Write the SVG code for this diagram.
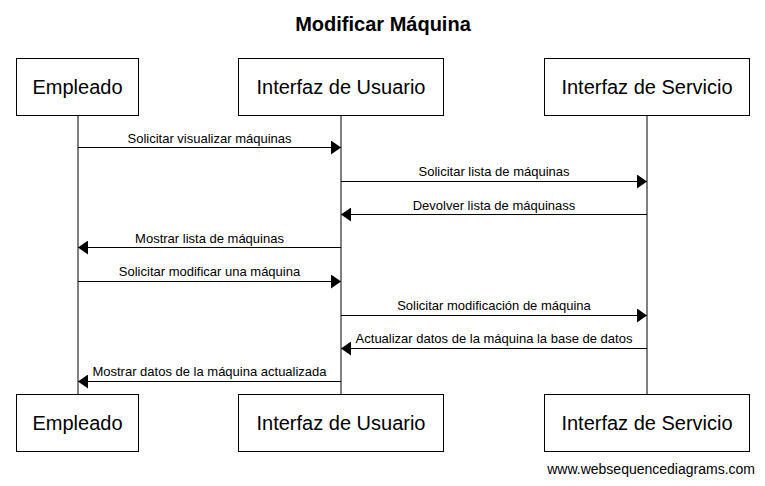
<svg xmlns="http://www.w3.org/2000/svg" width="765" height="486" viewBox="0 0 765 486">
<style>
text{font-family:"Liberation Sans",Arial,sans-serif;fill:#000}
.box{fill:#fff;stroke:#000;stroke-width:1}
.bt{font-size:20px;text-anchor:middle}
.life{stroke:#000;stroke-width:1}
.msg{stroke:#000;stroke-width:1;fill:none}
.ml{font-size:13px;text-anchor:middle}
</style>
<defs>
<marker id="ah" viewBox="0 0 10 14" refX="10" refY="7" markerWidth="10" markerHeight="14" markerUnits="userSpaceOnUse" orient="auto">
<path d="M0,0 L10,7 L0,14 Z" fill="#000"/>
</marker>
</defs>
<rect width="765" height="486" fill="#fff"/>
<text x="383" y="31" font-size="20" font-weight="bold" text-anchor="middle">Modificar Máquina</text>
<g id="lifelines">
<line class="life" x1="78" y1="115" x2="78" y2="394"/>
<line class="life" x1="341" y1="115" x2="341" y2="394"/>
<line class="life" x1="647" y1="115" x2="647" y2="394"/>
</g>
<g id="connectors">
<line class="msg" x1="78" y1="147.5" x2="341" y2="147.5" marker-end="url(#ah)"/>
<text class="ml" x="209.5" y="143">Solicitar visualizar máquinas</text>
<line class="msg" x1="341" y1="181.5" x2="647" y2="181.5" marker-end="url(#ah)"/>
<text class="ml" x="494" y="176">Solicitar lista de máquinas</text>
<line class="msg" x1="647" y1="214.5" x2="341" y2="214.5" marker-end="url(#ah)"/>
<text class="ml" x="494" y="210">Devolver lista de máquinass</text>
<line class="msg" x1="341" y1="247.5" x2="78" y2="247.5" marker-end="url(#ah)"/>
<text class="ml" x="209.5" y="243">Mostrar lista de máquinas</text>
<line class="msg" x1="78" y1="281.5" x2="341" y2="281.5" marker-end="url(#ah)"/>
<text class="ml" x="209.5" y="276">Solicitar modificar una máquina</text>
<line class="msg" x1="341" y1="315.5" x2="647" y2="315.5" marker-end="url(#ah)"/>
<text class="ml" x="494" y="310">Solicitar modificación de máquina</text>
<line class="msg" x1="647" y1="348.5" x2="341" y2="348.5" marker-end="url(#ah)"/>
<text class="ml" x="494" y="343">Actualizar datos de la máquina la base de datos</text>
<line class="msg" x1="341" y1="381.5" x2="78" y2="381.5" marker-end="url(#ah)"/>
<text class="ml" x="209.5" y="376">Mostrar datos de la máquina actualizada</text>
</g>
<g id="empleado-top"><rect class="box" x="16.5" y="58.5" width="122" height="57"/><text class="bt" x="77.5" y="94">Empleado</text></g>
<g id="usuario-top"><rect class="box" x="238.5" y="58.5" width="205" height="57"/><text class="bt" x="341" y="94">Interfaz de Usuario</text></g>
<g id="servicio-top"><rect class="box" x="544.5" y="58.5" width="205" height="57"/><text class="bt" x="647" y="94">Interfaz de Servicio</text></g>
<g id="empleado-bottom"><rect class="box" x="16.5" y="394.5" width="122" height="57"/><text class="bt" x="77.5" y="430">Empleado</text></g>
<g id="usuario-bottom"><rect class="box" x="238.5" y="394.5" width="205" height="57"/><text class="bt" x="341" y="430">Interfaz de Usuario</text></g>
<g id="servicio-bottom"><rect class="box" x="544.5" y="394.5" width="205" height="57"/><text class="bt" x="647" y="430">Interfaz de Servicio</text></g>
<text x="755" y="474" font-size="14" text-anchor="end">www.websequencediagrams.com</text>
</svg>
